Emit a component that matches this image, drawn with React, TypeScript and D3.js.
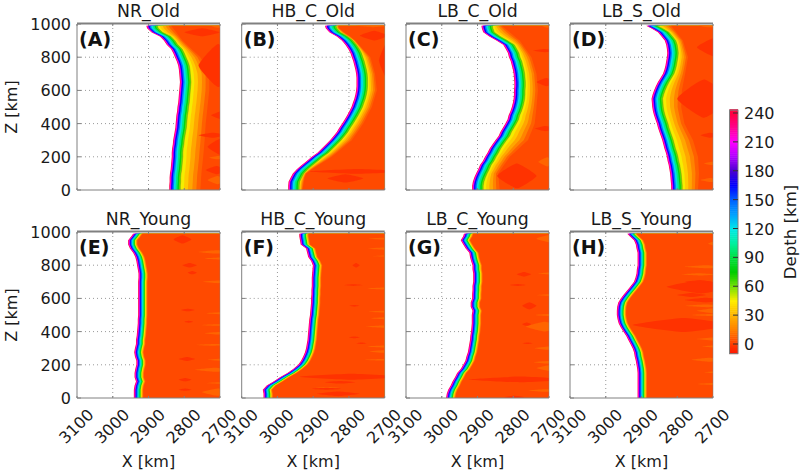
import React, { useEffect, useRef } from 'react';
import * as d3 from 'd3';

const panelNames = ['NR_Old', 'HB_C_Old', 'LB_C_Old', 'LB_S_Old', 'NR_Young', 'HB_C_Young', 'LB_C_Young', 'LB_S_Young'];
const panelLetters = ['(A)', '(B)', '(C)', '(D)', '(E)', '(F)', '(G)', '(H)'];
const xTicks = [3100, 3000, 2900, 2800, 2700];
const zTicks = [0, 200, 400, 600, 800, 1000];
const depthTicks = [0, 30, 60, 90, 120, 150, 180, 210, 240];

// slab edge (km in X), read every 25 km of Z, top level is 990
const zLevels = [...d3.range(0, 1000, 25), 990];
const edgeA = [2842, 2842, 2841, 2841, 2840, 2838, 2837, 2836, 2835, 2835, 2834, 2832, 2831, 2829, 2827, 2825, 2824, 2823, 2822, 2820, 2819, 2817, 2816, 2815, 2814, 2813, 2812, 2813, 2814, 2815, 2817, 2821, 2826, 2831, 2837, 2849, 2857, 2868, 2892, 2904, 2906];
const edgeB = [2970, 2970, 2969, 2963, 2957, 2946, 2932, 2918, 2904, 2888, 2876, 2864, 2853, 2843, 2834, 2827, 2819, 2812, 2805, 2799, 2793, 2789, 2785, 2782, 2780, 2779, 2779, 2779, 2780, 2782, 2785, 2788, 2792, 2796, 2802, 2810, 2820, 2834, 2855, 2865, 2867];
const edgeC = [2915, 2915, 2913, 2909, 2904, 2898, 2893, 2885, 2879, 2872, 2866, 2858, 2850, 2841, 2836, 2829, 2822, 2816, 2813, 2808, 2804, 2801, 2799, 2798, 2798, 2797, 2797, 2798, 2799, 2801, 2804, 2807, 2812, 2815, 2821, 2828, 2847, 2867, 2884, 2888, 2889];
const edgeD = [2817, 2817, 2818, 2819, 2820, 2822, 2824, 2827, 2829, 2832, 2836, 2839, 2842, 2846, 2850, 2854, 2857, 2861, 2865, 2868, 2870, 2871, 2872, 2869, 2865, 2860, 2854, 2847, 2840, 2836, 2833, 2831, 2829, 2828, 2829, 2831, 2835, 2844, 2854, 2873, 2887];
const edgeE = [2941, 2941, 2941, 2939, 2935, 2939, 2939, 2937, 2934, 2934, 2938, 2940, 2938, 2935, 2935, 2933, 2932, 2931, 2930, 2930, 2929, 2929, 2929, 2929, 2929, 2929, 2929, 2929, 2929, 2928, 2928, 2930, 2932, 2934, 2937, 2943, 2952, 2957, 2957, 2948, 2943];
const edgeF = [3039, 3039, 3041, 3030, 3011, 2993, 2972, 2956, 2942, 2934, 2928, 2923, 2920, 2918, 2916, 2915, 2914, 2913, 2912, 2911, 2909, 2908, 2907, 2906, 2906, 2905, 2905, 2904, 2904, 2904, 2903, 2902, 2901, 2906, 2914, 2917, 2920, 2935, 2937, 2939, 2939];
const edgeG = [2988, 2986, 2982, 2975, 2970, 2963, 2957, 2947, 2940, 2934, 2931, 2927, 2925, 2923, 2921, 2920, 2918, 2917, 2916, 2916, 2916, 2914, 2919, 2919, 2915, 2915, 2914, 2914, 2912, 2912, 2912, 2914, 2914, 2918, 2921, 2923, 2933, 2940, 2947, 2940, 2938];
const edgeH = [2911, 2911, 2911, 2911, 2911, 2911, 2911, 2912, 2914, 2916, 2919, 2921, 2925, 2931, 2937, 2943, 2951, 2958, 2964, 2967, 2969, 2969, 2968, 2965, 2958, 2949, 2939, 2930, 2921, 2917, 2914, 2913, 2911, 2911, 2911, 2911, 2914, 2916, 2921, 2933, 2940];

// where the warm orange fade ends, old panels only
const zOuter = [0, 100, 200, 300, 400, 500, 600, 700, 800, 900, 1000];
const outerA = [2755, 2752, 2747, 2743, 2740, 2735, 2730, 2730, 2755, 2805, 2840];
const outerB = [2930, 2922, 2848, 2792, 2760, 2736, 2722, 2727, 2740, 2783, 2845];
const outerC = [2838, 2842, 2810, 2759, 2740, 2735, 2731, 2735, 2749, 2782, 2838];
const outerD = [2742, 2739, 2742, 2756, 2780, 2789, 2787, 2778, 2770, 2784, 2821];

// depth bands from the slab edge going right
const hotDepths = [238, 212, 188, 165, 145, 122, 100, 80, 62];
const hotOffsetOld = [0, 2, 4.5, 6, 9, 13, 18, 23, 27];
const hotOffsetYoung = [0, 2, 4, 5.5, 7.5, 10.5, 13, 16, 18];
const warmDepths = [46, 36, 26, 16, 8];
const warmShareOld = [0, 0.18, 0.38, 0.6, 0.8];
const warmOffsetYoung = [19.5, 21, 22.5, 24, 25.5];
const backgroundDepth = 3;

// [z, half height in z, left x, right x]
const redA = [[750, 130, 2760, 2650], [950, 25, 2800, 2700], [450, 30, 2725, 2650], [260, 50, 2735, 2660], [330, 15, 2760, 2680], [120, 25, 2740, 2680]];
const redB = [[112, 14, 2910, 2640], [70, 25, 2860, 2760], [780, 170, 2716, 2640], [930, 30, 2770, 2690]];
const redC = [[85, 75, 2845, 2735], [840, 10, 2745, 2680], [370, 16, 2740, 2680], [650, 25, 2735, 2680]];
const redD = [[550, 115, 2800, 2650], [860, 55, 2745, 2650], [330, 15, 2735, 2680]];
const redE = [[955, 25, 2830, 2780], [800, 14, 2805, 2765], [755, 10, 2790, 2765], [530, 8, 2810, 2770], [460, 6, 2800, 2775], [235, 12, 2815, 2770], [110, 10, 2815, 2780], [50, 7, 2815, 2780]];
const redF = [[128, 18, 2940, 2640], [95, 8, 2870, 2780], [25, 14, 2890, 2770], [55, 6, 2905, 2820], [800, 14, 2790, 2770], [680, 5, 2815, 2760], [555, 5, 2800, 2770], [365, 5, 2800, 2770], [330, 5, 2780, 2750]];
const redG = [[112, 17, 2925, 2640], [745, 14, 2790, 2750], [680, 6, 2810, 2765], [555, 22, 2775, 2735], [445, 10, 2775, 2750], [5, 8, 2825, 2770], [330, 5, 2775, 2745]];
const redH = [[440, 42, 2925, 2640], [670, 40, 2830, 2640], [590, 14, 2780, 2660], [620, 12, 2800, 2720], [700, 8, 2780, 2700]];

const orangeA = [[985, 8, 2725, 2680], [60, 25, 2735, 2680], [195, 10, 2730, 2680]];
const orangeB = [[995, 14, 2780, 2680]];
const orangeC = [[170, 28, 2730, 2680], [985, 8, 2720, 2680]];
const orangeD = [[990, 10, 2740, 2680], [160, 10, 2725, 2680], [60, 12, 2735, 2680]];
const orangeE = [[880, 10, 2760, 2660], [840, 6, 2745, 2660], [700, 8, 2750, 2660], [510, 6, 2740, 2660], [440, 5, 2755, 2660], [390, 8, 2745, 2660], [320, 5, 2765, 2660], [230, 6, 2735, 2660], [170, 12, 2770, 2660], [90, 5, 2740, 2660], [35, 22, 2750, 2660]];
const orangeF = [[960, 5, 2745, 2660], [900, 7, 2750, 2660], [855, 4, 2735, 2660], [660, 6, 2750, 2660], [520, 5, 2745, 2660], [480, 6, 2740, 2660], [430, 7, 2755, 2660], [310, 6, 2750, 2660], [280, 8, 2745, 2660], [230, 5, 2760, 2660], [60, 5, 2900, 2820]];
const orangeG = [[960, 22, 2735, 2660], [750, 6, 2730, 2660], [620, 5, 2735, 2660], [500, 6, 2740, 2660], [430, 30, 2765, 2660], [300, 10, 2740, 2660], [215, 8, 2745, 2660], [180, 18, 2735, 2660], [45, 8, 2760, 2660]];
const orangeH = [[930, 18, 2715, 2660], [790, 9, 2780, 2660], [745, 7, 2790, 2690], [555, 8, 2780, 2660], [525, 14, 2745, 2660], [500, 6, 2760, 2660], [355, 9, 2745, 2660], [310, 6, 2730, 2660], [230, 12, 2760, 2660], [155, 6, 2725, 2660], [85, 6, 2745, 2660]];

const edges = [edgeA, edgeB, edgeC, edgeD, edgeE, edgeF, edgeG, edgeH];
const outers = [outerA, outerB, outerC, outerD];
const reds = [redA, redB, redC, redD, redE, redF, redG, redH];
const oranges = [orangeA, orangeB, orangeC, orangeD, orangeE, orangeF, orangeG, orangeH];

const colorStops = [-10, 0, 15, 30, 45, 60, 75, 90, 105, 120, 135, 150, 165, 180, 195, 210, 225, 240];
const colorValues = ['#ff1500', '#ff3c00', '#ff8000', '#ffb400', '#ffee00', '#70e000', '#00cc00', '#00e040', '#00f0a0', '#00e8e8', '#00a0ff', '#0060ff', '#0000ff', '#4a00d0', '#b000ff', '#ff00ff', '#ff0090', '#ff0040'];

const FONT = '"DejaVu Sans", sans-serif';
const GREY = '#808080';
const TEXT = '#1a1a1a';
const panelWidth = 143;
const panelHeight = 166;
const panelLefts = [77, 241.7, 406, 570];
const panelTops = [24, 232];

const App: React.FC = () => {
    const svgRef = useRef<SVGSVGElement>(null);

    useEffect(() => {
        if (!svgRef.current) return;
        const svg = d3.select(svgRef.current);
        svg.selectAll('*').remove();

        const color = d3.scaleLinear<string>().domain(colorStops).range(colorValues);
        const x = d3.scaleLinear().domain([3100, 2700]).range([0, panelWidth]);
        const y = d3.scaleLinear().domain([0, 1000]).range([panelHeight, 0]);
        const blob = d3.line().curve(d3.curveCardinalClosed.tension(0.55));

        panelNames.forEach((name, i) => {
            const col = i % 4;
            const row = Math.floor(i / 4);
            const g = svg.append('g').attr('transform', `translate(${panelLefts[col]},${panelTops[row]})`);
            const edge = edges[i];
            const isOld = row === 0;

            // grid sits under the filled contours
            const grid = g.append('g').attr('stroke', '#999').attr('stroke-width', 1).attr('stroke-dasharray', '1,3');
            xTicks.slice(1, -1).forEach(t => grid.append('line').attr('x1', x(t)).attr('x2', x(t)).attr('y1', 0).attr('y2', panelHeight));
            zTicks.slice(1, -1).forEach(t => grid.append('line').attr('x1', 0).attr('x2', panelWidth).attr('y1', y(t)).attr('y2', y(t)));

            const clipId = `clip-${i}`;
            svg.append('clipPath').attr('id', clipId).append('rect')
                .attr('transform', `translate(${panelLefts[col]},${panelTops[row]})`)
                .attr('width', panelWidth).attr('height', panelHeight);
            const fill = svg.append('g').attr('clip-path', `url(#${clipId})`)
                .append('g').attr('transform', `translate(${panelLefts[col]},${panelTops[row]})`);

            const band = (offsetAt: (k: number) => number) => d3.area<number>()
                .x0((_, k) => x(edge[k] - offsetAt(k)))
                .x1(x(2700))
                .y((_, k) => y(zLevels[k]));

            const hotOffset = isOld ? hotOffsetOld : hotOffsetYoung;
            hotDepths.forEach((depth, j) => {
                fill.append('path').datum(zLevels).attr('fill', color(depth))
                    .attr('d', band(() => hotOffset[j]));
            });

            const outerAt = isOld ? d3.scaleLinear().domain(zOuter).range(outers[i]) : null;
            const hotEnd = hotOffset[hotOffset.length - 1] + 4;
            const warmOffset = (j: number, k: number) => {
                if (!outerAt) return warmOffsetYoung[j];
                const span = edge[k] - hotEnd - outerAt(zLevels[k]);
                return hotEnd + Math.max(span, 6) * warmShareOld[j];
            };
            warmDepths.forEach((depth, j) => {
                fill.append('path').datum(zLevels).attr('fill', color(depth))
                    .attr('d', band(k => warmOffset(j, k)));
            });
            const backgroundOffset = (k: number) => {
                if (!outerAt) return warmOffsetYoung[warmOffsetYoung.length - 1] + 1;
                return Math.max(edge[k] - outerAt(zLevels[k]), hotEnd + 7);
            };
            fill.append('path').datum(zLevels).attr('fill', color(backgroundDepth))
                .attr('d', band(backgroundOffset));

            // thin contour along the green edge on the old panels
            if (isOld) {
                const contour = d3.line<number>()
                    .x((_, k) => x(edge[k] - hotEnd))
                    .y((_, k) => y(zLevels[k]));
                fill.append('path').datum(zLevels).attr('fill', 'none')
                    .attr('stroke', '#4d6b20').attr('stroke-width', 0.5).attr('stroke-opacity', 0.6).attr('d', contour);
            }

            const lens = (d: number[]) => {
                const [z, half, left, right] = d;
                const mid = (left + right) / 2;
                return blob([
                    [x(left), y(Math.min(z, 990))],
                    [x(mid), y(Math.min(z + half, 990))],
                    [x(right), y(Math.min(z, 990))],
                    [x(mid), y(z - half)],
                ]);
            };
            fill.selectAll('path.orange').data(oranges[i]).join('path').attr('class', 'orange')
                .attr('fill', '#ff6400').attr('d', lens);
            fill.selectAll('path.red').data(reds[i]).join('path').attr('class', 'red')
                .attr('fill', '#ff3200').attr('d', lens);

            // frame and axes on top
            const frame = svg.append('g').attr('transform', `translate(${panelLefts[col]},${panelTops[row]})`);
            frame.append('line').attr('x1', 0).attr('x2', panelWidth).attr('y1', -0.5).attr('y2', -0.5).attr('stroke', GREY).attr('stroke-width', 2);
            frame.append('line').attr('x1', 0).attr('x2', panelWidth).attr('y1', panelHeight).attr('y2', panelHeight).attr('stroke', GREY);
            frame.append('line').attr('x1', 0).attr('x2', 0).attr('y1', 0).attr('y2', panelHeight).attr('stroke', GREY);
            frame.append('line').attr('x1', panelWidth).attr('x2', panelWidth).attr('y1', 0).attr('y2', panelHeight).attr('stroke', GREY).attr('stroke-opacity', 0.5);
            xTicks.forEach(t => {
                frame.append('line').attr('x1', x(t)).attr('x2', x(t)).attr('y1', panelHeight).attr('y2', panelHeight - 2).attr('stroke', GREY);
                frame.append('line').attr('x1', x(t)).attr('x2', x(t)).attr('y1', 0).attr('y2', 2).attr('stroke', GREY);
            });
            zTicks.forEach(t => frame.append('line').attr('x1', 0).attr('x2', 4).attr('y1', y(t)).attr('y2', y(t)).attr('stroke', GREY));

            frame.append('text').attr('x', panelWidth / 2).attr('y', -7)
                .attr('text-anchor', 'middle').attr('font-size', 17.3).attr('font-family', FONT).attr('fill', TEXT).text(name);
            frame.append('text').attr('x', 2).attr('y', 22)
                .attr('font-size', 19).attr('font-weight', 'bold').attr('font-family', FONT).attr('fill', '#111').text(panelLetters[i]);

            if (col === 0) {
                zTicks.forEach(t => frame.append('text').attr('x', -6).attr('y', y(t) + 6)
                    .attr('text-anchor', 'end').attr('font-size', 16).attr('font-family', FONT).attr('fill', TEXT).text(t));
                frame.append('text').attr('transform', `translate(-60,${panelHeight / 2}) rotate(-90)`)
                    .attr('text-anchor', 'middle').attr('font-size', 16).attr('font-family', FONT).attr('fill', TEXT).text('Z [km]');
            }
            if (row === 1) {
                xTicks.forEach(t => frame.append('text').attr('transform', `translate(${x(t)},${panelHeight + 29}) rotate(-45)`)
                    .attr('text-anchor', 'middle').attr('dominant-baseline', 'middle').attr('font-size', 16).attr('font-family', FONT).attr('fill', TEXT).text(t));
                frame.append('text').attr('x', panelWidth / 2).attr('y', panelHeight + 69)
                    .attr('text-anchor', 'middle').attr('font-size', 16).attr('font-family', FONT).attr('fill', TEXT).text('X [km]');
            }
        });

        // colour bar
        const barX = 729.5;
        const barWidth = 8.5;
        const barScale = d3.scaleLinear().domain([0, 240]).range([344, 113]);
        const bar = svg.append('g');
        d3.range(-10, 243, 2).forEach(v => {
            bar.append('rect').attr('x', barX).attr('width', barWidth)
                .attr('y', barScale(v + 2)).attr('height', barScale(v) - barScale(v + 2) + 0.5)
                .attr('fill', color(Math.min(v + 1, 240)));
        });
        bar.append('rect').attr('x', barX).attr('width', barWidth).attr('y', barScale(243)).attr('height', barScale(-10) - barScale(243))
            .attr('fill', 'none').attr('stroke', GREY);
        depthTicks.forEach(t => {
            bar.append('line').attr('x1', barX + barWidth - 5).attr('x2', barX + barWidth).attr('y1', barScale(t)).attr('y2', barScale(t)).attr('stroke', '#333');
            bar.append('text').attr('x', 744).attr('y', barScale(t) + 6).attr('font-size', 16).attr('font-family', FONT).attr('fill', TEXT).text(t);
        });
        bar.append('text').attr('transform', 'translate(796,232) rotate(-90)')
            .attr('text-anchor', 'middle').attr('font-size', 16.6).attr('font-family', FONT).attr('fill', TEXT).text('Depth [km]');
    }, []);

    return (
        <div style={{ position: 'absolute', left: 0, top: 0 }}>
            <svg ref={svgRef} width={803} height={472} style={{ display: 'block', background: '#fff' }} />
        </div>
    );
};

export default App;
